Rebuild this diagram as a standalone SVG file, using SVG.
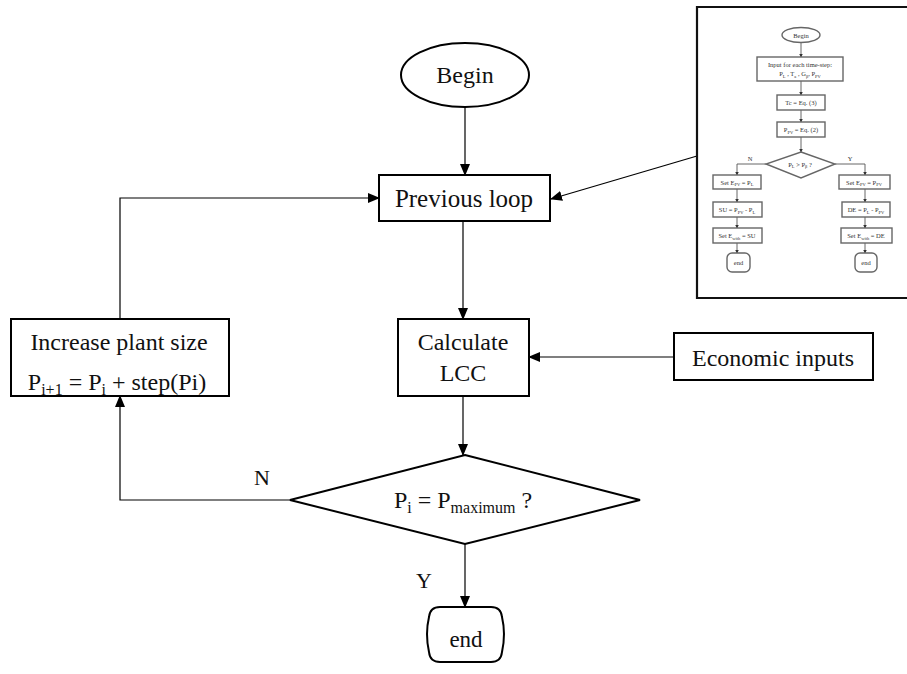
<svg xmlns="http://www.w3.org/2000/svg" width="907" height="674" viewBox="0 0 907 674">
<defs>
<marker id="arr" markerUnits="userSpaceOnUse" markerWidth="12" markerHeight="10" refX="11" refY="5" orient="auto">
<path d="M0,0 L12,5 L0,10 Z" fill="#000"/>
</marker>
<marker id="arrS" markerUnits="userSpaceOnUse" markerWidth="4" markerHeight="4" refX="3.5" refY="2" orient="auto">
<path d="M0,0 L4,2 L0,4 Z" fill="#333"/>
</marker>
</defs>
<style>
.box{fill:#fff;stroke:#000;stroke-width:2}
.ln{fill:none;stroke:#000;stroke-width:1.2}
.t{font-family:"Liberation Serif","Times New Roman",serif;fill:#111;text-anchor:middle}
.big{font-size:24px}
.mb{fill:#fff;stroke:#666;stroke-width:1.4}
.ml{fill:none;stroke:#555;stroke-width:0.9}
.mt{font-family:"Liberation Serif","Times New Roman",serif;fill:#333;text-anchor:middle;font-size:6.5px}
</style>
<rect width="907" height="674" fill="#fff"/>

<g id="connectors">
<line class="ln" x1="465" y1="107" x2="465" y2="175" marker-end="url(#arr)"/>
<line class="ln" x1="463" y1="221" x2="463" y2="319" marker-end="url(#arr)"/>
<line class="ln" x1="463" y1="396" x2="463" y2="455" marker-end="url(#arr)"/>
<line class="ln" x1="674" y1="357" x2="529" y2="357" marker-end="url(#arr)"/>
<polyline class="ln" points="290,500 120,500 120,396" marker-end="url(#arr)"/>
<polyline class="ln" points="120,319 120,198 379,198" marker-end="url(#arr)"/>
<line class="ln" x1="465" y1="544" x2="465" y2="607" marker-end="url(#arr)"/>
<line class="ln" x1="697" y1="156" x2="551" y2="199" marker-end="url(#arr)"/>
<text class="t" x="262" y="485" font-size="22">N</text>
<text class="t" x="424" y="588" font-size="22">Y</text>
</g>

<g id="begin">
<ellipse cx="465" cy="75" rx="64" ry="32" class="box"/>
<text class="t big" x="465" y="83" font-size="25">Begin</text>
</g>

<g id="previous-loop">
<rect x="379" y="175" width="171" height="46" class="box"/>
<text class="t" x="464" y="207" font-size="25">Previous loop</text>
</g>

<g id="calculate-lcc">
<rect x="398" y="319" width="131" height="77" class="box"/>
<text class="t big" x="463" y="350">Calculate</text>
<text class="t big" x="463" y="381">LCC</text>
</g>

<g id="economic-inputs">
<rect x="674" y="333" width="199" height="47" class="box"/>
<text class="t big" x="773" y="366">Economic inputs</text>
</g>

<g id="increase-plant-size">
<rect x="11" y="319" width="218" height="77" class="box"/>
<text class="t big" x="119" y="350">Increase plant size</text>
<text class="t big" x="117" y="390">P<tspan font-size="16" dy="5">i+1</tspan><tspan dy="-5"> = P</tspan><tspan font-size="16" dy="5">i</tspan><tspan dy="-5"> + step(Pi)</tspan></text>
</g>

<g id="decision">
<polygon points="465,455 640,500 465,544 290,500" class="box"/>
<text class="t big" x="463" y="508">P<tspan font-size="16" dy="5">i</tspan><tspan dy="-5"> = P</tspan><tspan font-size="16" dy="5">maximum</tspan><tspan dy="-5"> ?</tspan></text>
</g>

<g id="end">
<path class="box" d="M440,607 L491,607 Q501,607 502,617 Q506,634 502,652 Q501,662 491,662 L440,662 Q430,662 429,652 Q425,634 429,617 Q430,607 440,607 Z"/>
<text class="t" x="466" y="647" font-size="23">end</text>
</g>

<g id="inset">
<polyline points="907,7 697,7 697,298 907,298" fill="#fff" stroke="#111" stroke-width="2.2"/>
<g id="inset-connectors">
<line class="ml" x1="801" y1="42" x2="801" y2="57" marker-end="url(#arrS)"/>
<line class="ml" x1="801" y1="81" x2="801" y2="95" marker-end="url(#arrS)"/>
<line class="ml" x1="801" y1="110" x2="801" y2="122" marker-end="url(#arrS)"/>
<line class="ml" x1="801" y1="137" x2="801" y2="152" marker-end="url(#arrS)"/>
<polyline class="ml" points="766,164 737,164 737,175" marker-end="url(#arrS)"/>
<polyline class="ml" points="835,164 865,164 865,175" marker-end="url(#arrS)"/>
<line class="ml" x1="737" y1="189" x2="737" y2="202" marker-end="url(#arrS)"/>
<line class="ml" x1="737" y1="217" x2="737" y2="228" marker-end="url(#arrS)"/>
<line class="ml" x1="737" y1="243" x2="737" y2="253" marker-end="url(#arrS)"/>
<line class="ml" x1="865" y1="189" x2="865" y2="202" marker-end="url(#arrS)"/>
<line class="ml" x1="865" y1="217" x2="865" y2="228" marker-end="url(#arrS)"/>
<line class="ml" x1="865" y1="243" x2="865" y2="253" marker-end="url(#arrS)"/>
<text class="mt" x="750" y="161" font-size="7">N</text>
<text class="mt" x="850" y="161" font-size="7">Y</text>
</g>
<g id="inset-begin">
<ellipse cx="801" cy="35" rx="19" ry="7.5" class="mb"/>
<text class="mt" x="801" y="37.5">Begin</text>
</g>
<g id="inset-input">
<rect x="757" y="57" width="86" height="24" class="mb"/>
<text class="mt" x="800" y="67">Input for each time-step:</text>
<text class="mt" x="800" y="76">P<tspan font-size="4.5" dy="1.5">L</tspan><tspan dy="-1.5"> , T</tspan><tspan font-size="4.5" dy="1.5">a</tspan><tspan dy="-1.5"> , G</tspan><tspan font-size="4.5" dy="1.5">β</tspan><tspan dy="-1.5">, P</tspan><tspan font-size="4.5" dy="1.5">PV</tspan></text>
</g>
<g id="inset-tc">
<rect x="777" y="95" width="48" height="15" class="mb"/>
<text class="mt" x="801" y="105">Tc = Eq. (3)</text>
</g>
<g id="inset-ppv">
<rect x="777" y="122" width="48" height="15" class="mb"/>
<text class="mt" x="801" y="132">P<tspan font-size="4.5" dy="1.5">PV</tspan><tspan dy="-1.5"> = Eq. (2)</tspan></text>
</g>
<g id="inset-decision">
<polygon points="801,152 835,164 801,178 766,164" class="mb"/>
<text class="mt" x="800" y="166.5">P<tspan font-size="4.5" dy="1.5">L</tspan><tspan dy="-1.5"> &gt; P</tspan><tspan font-size="4.5" dy="1.5">β</tspan><tspan dy="-1.5"> ?</tspan></text>
</g>
<g id="inset-n1">
<rect x="713" y="175" width="48" height="14" class="mb"/>
<text class="mt" x="737" y="184.5">Set E<tspan font-size="4.5" dy="1.5">PV</tspan><tspan dy="-1.5"> = P</tspan><tspan font-size="4.5" dy="1.5">L</tspan></text>
</g>
<g id="inset-n2">
<rect x="713" y="202" width="49" height="15" class="mb"/>
<text class="mt" x="737" y="212">SU = P<tspan font-size="4.5" dy="1.5">PV</tspan><tspan dy="-1.5"> - P</tspan><tspan font-size="4.5" dy="1.5">L</tspan></text>
</g>
<g id="inset-n3">
<rect x="713" y="228" width="49" height="15" class="mb"/>
<text class="mt" x="737" y="238">Set E<tspan font-size="4.5" dy="1.5">with</tspan><tspan dy="-1.5"> = SU</tspan></text>
</g>
<g id="inset-n-end">
<rect x="727" y="253" width="23" height="19" rx="5" class="mb"/>
<text class="mt" x="738.5" y="265">end</text>
</g>
<g id="inset-y1">
<rect x="839" y="175" width="51" height="14" class="mb"/>
<text class="mt" x="864" y="184.5">Set E<tspan font-size="4.5" dy="1.5">PV</tspan><tspan dy="-1.5"> = P</tspan><tspan font-size="4.5" dy="1.5">PV</tspan></text>
</g>
<g id="inset-y2">
<rect x="842" y="202" width="48" height="15" class="mb"/>
<text class="mt" x="866" y="212">DE = P<tspan font-size="4.5" dy="1.5">L</tspan><tspan dy="-1.5"> - P</tspan><tspan font-size="4.5" dy="1.5">PV</tspan></text>
</g>
<g id="inset-y3">
<rect x="841" y="228" width="51" height="15" class="mb"/>
<text class="mt" x="866" y="238">Set E<tspan font-size="4.5" dy="1.5">with</tspan><tspan dy="-1.5"> = DE</tspan></text>
</g>
<g id="inset-y-end">
<rect x="855" y="253" width="22" height="19" rx="5" class="mb"/>
<text class="mt" x="866" y="265">end</text>
</g>
</g>
</svg>
